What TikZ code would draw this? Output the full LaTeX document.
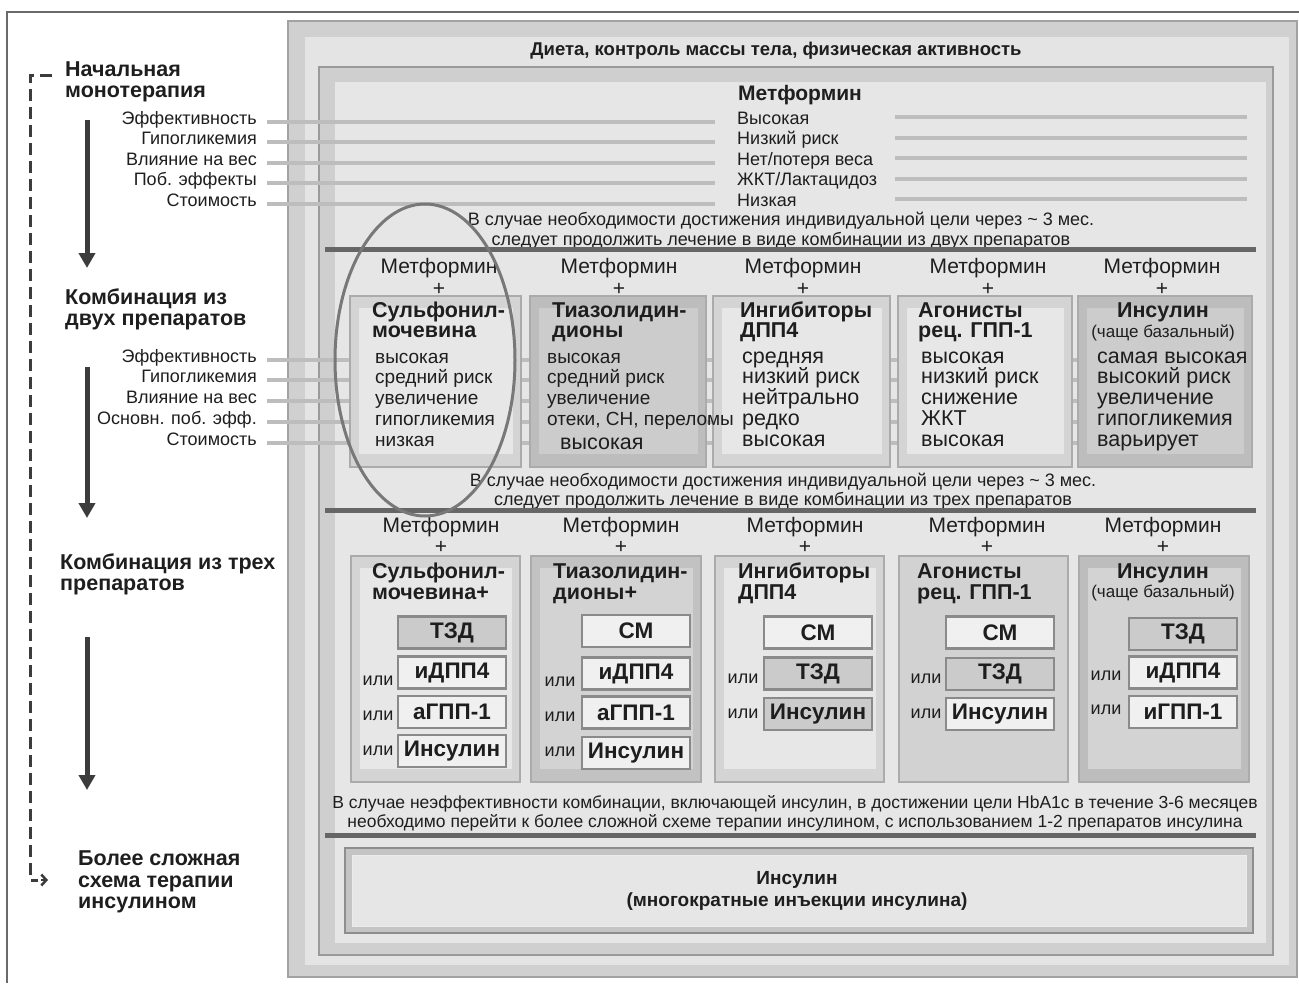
\documentclass[tikz,border=0pt]{standalone}
\usepackage{fontspec}
\setmainfont{Liberation Sans}
\usetikzlibrary{arrows.meta}
\newcommand{\fsz}[1]{\fontsize{#1}{#1}\selectfont}
\definecolor{txtc}{HTML}{1E1E1E}
\definecolor{framec}{HTML}{6A6A6A}
\definecolor{edgeA}{HTML}{A2A2A2}
\definecolor{bandA}{HTML}{D0D0D0}
\definecolor{lightA}{HTML}{E4E4E4}
\definecolor{edgeB}{HTML}{9A9A9A}
\definecolor{bandB}{HTML}{CFCFCF}
\definecolor{lightB}{HTML}{E6E6E6}
\definecolor{sepc}{HTML}{666666}
\definecolor{glc}{HTML}{BDBDBD}
\definecolor{arrc}{HTML}{3C3C3C}
\definecolor{ovalc}{HTML}{787878}
\definecolor{cbEdge}{HTML}{ABABAB}
\definecolor{cbLo}{HTML}{D4D4D4}
\definecolor{cbLi}{HTML}{E7E7E7}
\definecolor{cbDo}{HTML}{BDBDBD}
\definecolor{cbDi}{HTML}{CCCCCC}
\definecolor{cbMo}{HTML}{D2D2D2}
\definecolor{cbTo}{HTML}{C2C2C2}
\definecolor{cbTi}{HTML}{D3D3D3}
\definecolor{sbEdge}{HTML}{8A8A8A}
\definecolor{sbLight}{HTML}{F0F0F0}
\definecolor{sbGray}{HTML}{CBCBCB}
\definecolor{insEdge}{HTML}{8E8E8E}
\definecolor{insBand}{HTML}{C4C4C4}
\newcommand{\cbox}[6]{%
  \draw[cbEdge, line width=1.5pt, fill=#5] (#1,#2) rectangle (#3,#4);
  \fill[#6] (#1+9,#2+12) rectangle (#3-8,#4-13);}
\begin{document}
\begin{tikzpicture}[x=1pt,y=-1pt,
  every node/.style={inner sep=0pt, text=txtc},
  tx/.style={yshift=-4.5pt},
  rg/.style={tx, font=\fsz{18}},
  rgs/.style={tx, font=\fsz{19}},
  rgl/.style={tx, font=\fsz{21.5}},
  met/.style={tx, font=\fsz{21}, anchor=mid},
  hd/.style={tx, font=\bfseries\fsz{21.5}, anchor=mid west},
  ttl/.style={tx, font=\bfseries\fsz{21.5}, anchor=mid west},
  gl/.style={draw=glc, line width=4pt},
  sepline/.style={draw=sepc, line width=5pt},
  sb/.style={draw=sbEdge, line width=2.5pt, minimum width=108pt, minimum height=32pt, font=\bfseries\fsz{22.5}, anchor=center},
  sbL/.style={sb, fill=sbLight},
  sbG/.style={sb, fill=sbGray},
  orw/.style={tx, font=\fsz{18}, anchor=mid},
  downarrow/.style={draw=arrc, line width=5pt, -{Triangle[width=16pt,length=15pt]}}]
\useasboundingbox[fill=white] (0,0) rectangle (1299,983);
% outer frame
\draw[framec, line width=2pt] (7,983) -- (7,12) -- (1299,12);
% box A
\draw[edgeA, line width=1.5pt, fill=bandA] (288,21) rectangle (1297,977);
\fill[lightA] (305,37) rectangle (1289,965);
% box B
\draw[edgeB, line width=2pt, fill=bandB] (319,67) rectangle (1273,955);
\fill[lightB] (335,82) rectangle (1266,943);
\node[tx, font=\bfseries\fsz{18.5}, anchor=mid] (diet) at (776,48) {Диета, контроль массы тела, физическая активность};
% ---- row 1 ----
\node[tx, font=\bfseries\fsz{21}, anchor=mid] (met0) at (800,93) {Метформин};
\foreach \t [count=\i] in {Эффективность, Гипогликемия, Влияние на вес, Поб. эффекты, Стоимость}
  \node[rg, anchor=mid east] (LA\i) at (257, 96.5+20.5*\i) {\t};
\foreach \t [count=\i] in {Высокая, Низкий риск, Нет/потеря веса, ЖКТ/Лактацидоз, Низкая}
  \node[rg, anchor=mid west] (VA\i) at (737, 96.5+20.5*\i) {\t};
\foreach \i in {1,...,5}{
  \coordinate (RS\i) at (895, 96.5+20.5*\i);
  \coordinate (RE\i) at (1247, 96.5+20.5*\i);
  \draw[gl] ([xshift=10pt]LA\i.mid east) -- ([xshift=-22pt]VA\i.mid west);
  \draw[gl] (RS\i) -- (RE\i);
}
\node[rg, anchor=mid] (n1a) at (781,218) {В случае необходимости достижения индивидуальной цели через \char"007E{} 3 мес.};
\node[rg, anchor=mid] (n1b) at (781,238) {следует продолжить лечение в виде комбинации из двух препаратов};
\coordinate (s1l) at (325,249); \coordinate (s1r) at (1256,249);
\draw[sepline] (s1l) -- (s1r);
% ---- row 2 ----
\foreach \t [count=\i] in {Эффективность, Гипогликемия, Влияние на вес, Основн. поб. эфф., Стоимость}{
  \node[rg, anchor=mid east] (LB\i) at (257, 334.25+20.75*\i) {\t};
  \coordinate (LE\i) at (1078, 334.25+20.75*\i);
  \draw[gl] ([xshift=10pt]LB\i.mid east) -- (LE\i |- LB\i.mid east);
}
\foreach \cx [count=\i] in {439,619,803,988,1162}{
  \node[met] (m2\i) at (\cx,266) {Метформин};
  \node[met] (p2\i) at (\cx,288) {+};
}
\cbox{350}{296}{521}{467}{cbLo}{cbLi}
\cbox{530}{296}{706}{467}{cbDo}{cbDi}
\cbox{713}{296}{890}{467}{cbLo}{cbLi}
\cbox{898}{296}{1072}{467}{cbLo}{cbLi}
\cbox{1078}{296}{1252}{467}{cbDo}{cbDi}
\node[ttl] (t21a) at (372,310) {Сульфонил-};
\node[ttl] (t21b) at (372,330) {мочевина};
\node[ttl] (t22a) at (552,310) {Тиазолидин-};
\node[ttl] (t22b) at (552,330) {дионы};
\node[ttl] (t23a) at (740,310) {Ингибиторы};
\node[ttl] (t23b) at (740,330) {ДПП4};
\node[ttl] (t24a) at (918,310) {Агонисты};
\node[ttl] (t24b) at (918,330) {рец. ГПП-1};
\node[tx, font=\bfseries\fsz{21.5}, anchor=mid] (t25a) at (1163,310) {Инсулин};
\node[tx, font=\fsz{17}, anchor=mid] (t25b) at (1163,330) {(чаще базальный)};
\foreach \t [count=\i] in {высокая, средний риск, увеличение, гипогликемия, низкая}
  \node[rgs, anchor=mid west] (va\i) at (375, 335.25+20.75*\i) {\t};
\foreach \t [count=\i] in {высокая, средний риск, увеличение, {отеки, СН, переломы}}
  \node[rgs, anchor=mid west] (vb\i) at (547, 335.25+20.75*\i) {\t};
\node[rgl, anchor=mid west] (vb5) at (560,442) {высокая};
\foreach \t [count=\i] in {средняя, низкий риск, нейтрально, редко, высокая}
  \node[rgl, anchor=mid west] (vc\i) at (742, 335.25+20.75*\i) {\t};
\foreach \t [count=\i] in {высокая, низкий риск, снижение, ЖКТ, высокая}
  \node[rgl, anchor=mid west] (vd\i) at (921, 335.25+20.75*\i) {\t};
\foreach \t [count=\i] in {самая высокая, высокий риск, увеличение, гипогликемия, варьирует}
  \node[rgl, anchor=mid west] (ve\i) at (1097, 335.25+20.75*\i) {\t};
\node[rg, anchor=mid] (n2a) at (783,479) {В случае необходимости достижения индивидуальной цели через \char"007E{} 3 мес.};
\node[rg, anchor=mid] (n2b) at (783,498) {следует продолжить лечение в виде комбинации из трех препаратов};
\coordinate (s2l) at (325,510); \coordinate (s2r) at (1256,510);
\draw[sepline] (s2l) -- (s2r);
% ---- row 3 ----
\foreach \cx [count=\i] in {441,621,805,987,1163}{
  \node[met] (m3\i) at (\cx,525) {Метформин};
  \node[met] (p3\i) at (\cx,546) {+};
}
\cbox{351}{556}{520}{782}{cbLo}{cbLi}
\cbox{531}{556}{701}{782}{cbTo}{cbTi}
\cbox{715}{556}{884}{782}{cbLo}{cbLi}
\cbox{899}{556}{1068}{782}{cbMo}{cbMo}
\cbox{1079}{556}{1249}{782}{cbDo}{cbTi}
\node[ttl] (t31a) at (372,571) {Сульфонил-};
\node[ttl] (t31b) at (372,592) {мочевина+};
\node[ttl] (t32a) at (553,571) {Тиазолидин-};
\node[ttl] (t32b) at (553,592) {дионы+};
\node[ttl] (t33a) at (738,571) {Ингибиторы};
\node[ttl] (t33b) at (738,592) {ДПП4};
\node[ttl] (t34a) at (917,571) {Агонисты};
\node[ttl] (t34b) at (917,592) {рец. ГПП-1};
\node[tx, font=\bfseries\fsz{21.5}, anchor=mid] (t35a) at (1163,571) {Инсулин};
\node[tx, font=\fsz{17}, anchor=mid] (t35b) at (1163,590) {(чаще базальный)};
% sub-boxes col1
\node[sbG] (b11) at (452,632.5) {ТЗД};
\node[sbL] (b12) at (452,672.5) {иДПП4};
\node[sbL] (b13) at (452,712) {аГПП-1};
\node[sbL] (b14) at (452,751) {Инсулин};
\node[orw] (o12) at (378,678) {или};
\node[orw] (o13) at (378,713) {или};
\node[orw] (o14) at (378,748) {или};
% col2
\node[sbL] (b21) at (636,631) {СМ};
\node[sbL] (b22) at (636,673.5) {иДПП4};
\node[sbL] (b23) at (636,712.5) {аГПП-1};
\node[sbL] (b24) at (636,753) {Инсулин};
\node[orw] (o22) at (560,679) {или};
\node[orw] (o23) at (560,714) {или};
\node[orw] (o24) at (560,749) {или};
% col3
\node[sbL] (b31) at (818,632.5) {СМ};
\node[sbG] (b32) at (818,673.5) {ТЗД};
\node[sbG] (b33) at (818,714) {Инсулин};
\node[orw] (o32) at (743,676) {или};
\node[orw] (o33) at (743,711) {или};
% col4
\node[sbL] (b41) at (1000,632.5) {СМ};
\node[sbG] (b42) at (1000,674) {ТЗД};
\node[sbL] (b43) at (1000,714) {Инсулин};
\node[orw] (o42) at (926,676) {или};
\node[orw] (o43) at (926,711) {или};
% col5
\node[sbG] (b51) at (1183,634) {ТЗД};
\node[sbL] (b52) at (1183,672.5) {иДПП4};
\node[sbL] (b53) at (1183,712) {иГПП-1};
\node[orw] (o52) at (1106,673) {или};
\node[orw] (o53) at (1106,707) {или};
% ---- bottom ----
\node[tx, font=\fsz{17.5}, anchor=mid] (n3a) at (795,801) {В случае неэффективности комбинации, включающей инсулин, в достижении цели HbA1c в течение 3-6 месяцев};
\node[tx, font=\fsz{17.5}, anchor=mid] (n3b) at (795,820) {необходимо перейти к более сложной схеме терапии инсулином, с использованием 1-2 препаратов инсулина};
\coordinate (s3l) at (325,835); \coordinate (s3r) at (1256,835);
\draw[sepline] (s3l) -- (s3r);
\draw[insEdge, line width=2.5pt, fill=insBand] (345,848) rectangle (1253,933);
\draw[white!85!gray, line width=1pt, fill=lightB] (352,855) rectangle (1246,926);
\node[tx, font=\bfseries\fsz{19}, anchor=mid] (ins1) at (797,877) {Инсулин};
\node[tx, font=\bfseries\fsz{19}, anchor=mid] (ins2) at (797,899) {(многократные инъекции инсулина)};
% ---- left column ----
\node[hd] (h1a) at (65,69) {Начальная};
\node[hd] (h1b) at (65,90) {монотерапия};
\node[hd] (h2a) at (65,297) {Комбинация из};
\node[hd] (h2b) at (65,318) {двух препаратов};
\node[hd] (h3a) at (60,562) {Комбинация из трех};
\node[hd] (h3b) at (60,583) {препаратов};
\node[hd] (h4a) at (78,858) {Более сложная};
\node[hd] (h4b) at (78,880) {схема терапии};
\node[hd] (h4c) at (78,901) {инсулином};
\coordinate (a1s) at (87,120); \coordinate (a1e) at (87,268);
\coordinate (a2s) at (87,367); \coordinate (a2e) at (87,518);
\coordinate (a3s) at (87,637); \coordinate (a3e) at (87,790);
\draw[downarrow] (a1s) -- (a1e);
\draw[downarrow] (a2s) -- (a2e);
\draw[downarrow] (a3s) -- (a3e);
\coordinate (dtop) at (52,75); \coordinate (dcorner) at (30,880); \coordinate (dend) at (48,880);
\draw[arrc, line width=3pt, dash pattern=on 12pt off 6pt] (dtop) -- (30,75) -- (dcorner) -- (38,880);
\draw[arrc, line width=2.5pt, -{Straight Barb[length=5pt,width=11pt]}] (41,880) -- (dend);
% ---- oval ----
\draw[ovalc, line width=3pt] (425,360) ellipse [x radius=90, y radius=156];
\end{tikzpicture}
\end{document}
